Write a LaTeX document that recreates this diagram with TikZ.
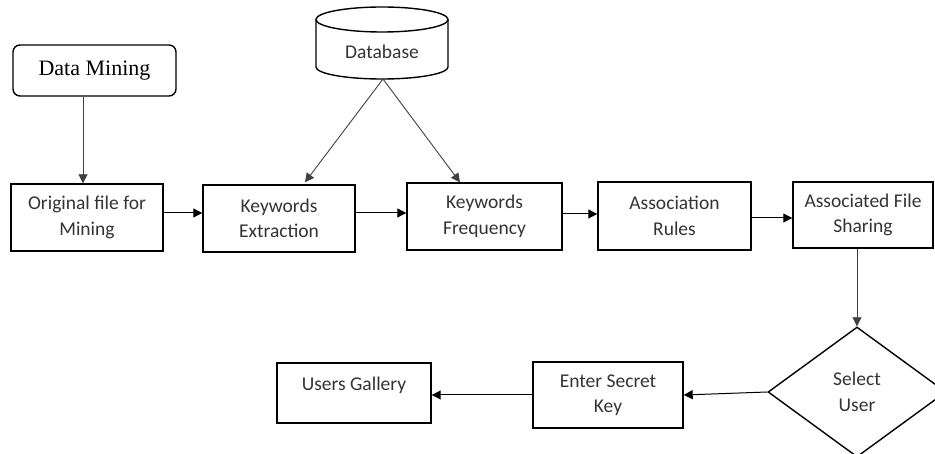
\documentclass[tikz,border=0pt]{standalone}
\usepackage{fontspec}
\setmainfont{Carlito}
\newfontfamily\serifdm{Liberation Serif}
\usetikzlibrary{shapes.geometric,arrows.meta}
\begin{document}
\begin{tikzpicture}[x=1pt,y=-1pt,
  procbox/.style={draw=black, line width=1.4pt, inner sep=0pt, align=center,
    text=black!80, font=\fontsize{19.5pt}{25.5pt}\selectfont},
  conn/.style={draw=black, line width=1pt, -{Triangle[length=9pt,width=9pt]}},
  thinconn/.style={draw=black!75, line width=0.9pt, -{Triangle[length=9pt,width=9pt]}}]
\useasboundingbox (0,0) rectangle (935,454);
\clip (0,0) rectangle (935,454);
% nodes
\node[procbox, rounded corners=7pt, minimum width=163pt, minimum height=51pt,
  font=\serifdm\fontsize{22pt}{26pt}\selectfont, text=black] (dm) at (94.5,70.5) {Data Mining};
% database cylinder
\draw[line width=1.4pt] (382,19.5) ellipse [x radius=66pt, y radius=12.5pt];
\draw[line width=1.4pt] (316,19.5) -- (316,67)
  arc[start angle=180, end angle=360, x radius=66pt, y radius=12pt] -- (448,19.5);
\node[text=black!80, font=\fontsize{19.5pt}{25.5pt}\selectfont] (db) at (382,52) {Database};
\coordinate (dbb) at (383,79);
\node[procbox, minimum width=152pt, minimum height=67pt] (orig) at (87,217.5) {Original file for\\Mining};
\node[procbox, minimum width=152pt, minimum height=67pt] (ke) at (279,218.5) {Keywords\\Extraction};
\node[procbox, minimum width=155pt, minimum height=67pt] (kf) at (484.5,216.5) {Keywords\\Frequency};
\node[procbox, minimum width=153pt, minimum height=68pt] (ar) at (674.5,216) {Association\\Rules};
\node[procbox, minimum width=140pt, minimum height=66pt] (afs) at (863,215) {Associated File\\Sharing};
\node[procbox, diamond, minimum width=178pt, minimum height=130pt] (sel) at (857,392) {Select\\User};
\node[procbox, minimum width=150pt, minimum height=66pt] (esk) at (608,395) {Enter Secret\\Key};
\node[procbox, minimum width=154pt, minimum height=60pt] (ug) at (354,393) {\raisebox{8pt}[\height][\depth]{Users Gallery}};
% connectors
\draw[thinconn] ([xshift=-11.5pt]dm.south) -- ([xshift=-4pt]orig.north);
\draw[thinconn] (dbb) -- ([xshift=26pt,yshift=2pt]ke.north);
\draw[thinconn] (dbb) -- ([xshift=-24.5pt]kf.north);
\draw[conn] ([yshift=4.5pt]orig.east) -- ([yshift=4.5pt]orig.east -| ke.west);
\draw[conn] ([yshift=5.5pt]ke.east) -- ([yshift=5.5pt]ke.east -| kf.west);
\draw[conn] ([yshift=2.5pt]kf.east) -- ([yshift=2.5pt]kf.east -| ar.west);
\draw[conn] ([yshift=-2pt]ar.east) -- ([yshift=-2pt]ar.east -| afs.west);
\draw[thinconn] ([xshift=-6pt]afs.south) -- (sel.north);
\draw[conn] (sel.west) -- (esk.east);
\draw[conn] (esk.west) -- (esk.west -| ug.east);
\end{tikzpicture}
\end{document}
